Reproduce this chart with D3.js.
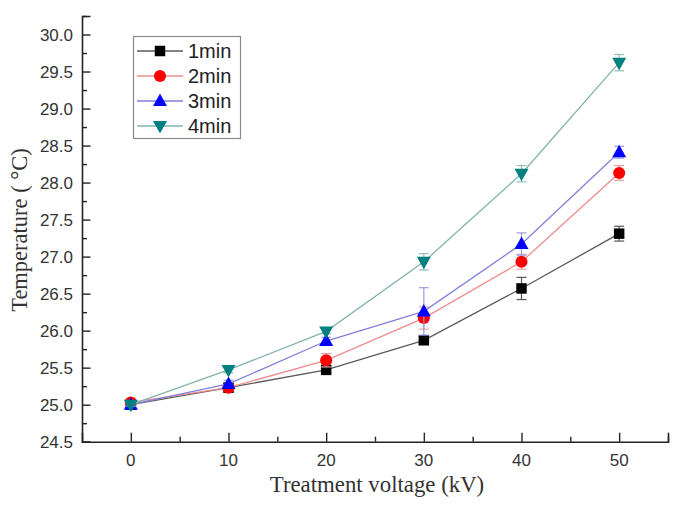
<!DOCTYPE html>
<html>
<head>
<meta charset="utf-8">
<script src="https://cdn.jsdelivr.net/npm/d3@7/dist/d3.min.js"></script>
<style>
  html, body { margin: 0; padding: 0; background: #fff; }
  svg { display: block; }
</style>
</head>
<body>
<svg id="chart" width="680" height="509"></svg>
<script>
// ---- Data ----
const voltages = [0, 10, 20, 30, 40, 50];
const seriesNames = ["1min", "2min", "3min", "4min"];
const temp1 = [25.00, 25.23, 25.47, 25.87, 26.57, 27.31];
const temp2 = [25.03, 25.23, 25.60, 26.17, 26.93, 28.13];
const temp3 = [25.00, 25.28, 25.86, 26.26, 27.17, 28.41];
const temp4 = [25.00, 25.47, 25.99, 26.93, 28.12, 29.62];
const err1 = [0.02, 0.03, 0.04, 0.05, 0.15, 0.10];
const err2 = [0.03, 0.03, 0.09, 0.15, 0.10, 0.10];
const err3 = [0.02, 0.05, 0.05, 0.32, 0.15, 0.08];
const err4 = [0.02, 0.04, 0.03, 0.11, 0.11, 0.11];
const yTickLabels = ["24.5","25.0","25.5","26.0","26.5","27.0","27.5","28.0","28.5","29.0","29.5","30.0"];
const xTickLabels = ["0","10","20","30","40","50"];

const styles = [
  {marker: "square",   fill: "#000000", line: "#5a5a5a", err: "#555555"},
  {marker: "circle",   fill: "#ff0000", line: "#ee8c8c", err: "#f0a0a0"},
  {marker: "triangle", fill: "#0000ff", line: "#8080dd", err: "#9a9ae6"},
  {marker: "tridown",  fill: "#008080", line: "#80b4ac", err: "#90c0b8"}
];
const series = [temp1, temp2, temp3, temp4].map((vals, i) => ({
  name: seriesNames[i],
  values: vals.map((v, j) => ({x: voltages[j], y: v, e: [err1, err2, err3, err4][i][j]})),
  style: styles[i]
}));

// ---- Layout ----
const svg = d3.select("#chart");
const mLeft = 82, mRight = 668, mTop = 16, mBottom = 441.7;
const x = d3.scaleLinear().domain([-5, 55]).range([mLeft, mRight]);
const y = d3.scaleLinear().domain([24.5, 30.25]).range([mBottom, mTop]);

const axisColor = "#222";

// ---- Axes ----
const yMajor = yTickLabels.map(Number);
const yMinor = d3.range(24.75, 30.26, 0.5);
const xMajor = xTickLabels.map(Number);
const xMinor = [5, 15, 25, 35, 45, 55];

const yAxisG = svg.append("g").attr("transform", `translate(${mLeft},0)`)
  .call(d3.axisRight(y).tickValues(yMajor).tickSize(8.5).tickFormat(""));
const yMinorG = svg.append("g").attr("transform", `translate(${mLeft},0)`)
  .call(d3.axisRight(y).tickValues(yMinor).tickSize(5).tickFormat(""));
const xAxisG = svg.append("g").attr("transform", `translate(0,${mBottom})`)
  .call(d3.axisTop(x).tickValues(xMajor).tickSize(9).tickFormat(""));
const xMinorG = svg.append("g").attr("transform", `translate(0,${mBottom})`)
  .call(d3.axisTop(x).tickValues(xMinor).tickSize(5).tickFormat(""));

[yAxisG, yMinorG, xAxisG, xMinorG].forEach(g => {
  g.selectAll("path.domain").attr("stroke", axisColor).attr("stroke-width", 1.6);
  g.selectAll(".tick line").attr("stroke", axisColor).attr("stroke-width", 1.4);
});
yMinorG.select("path.domain").remove();
xMinorG.select("path.domain").remove();

// tick labels
svg.append("g").selectAll("text").data(yTickLabels).join("text")
  .attr("x", mLeft - 9).attr("y", d => y(+d) + 6)
  .attr("text-anchor", "end")
  .attr("font-family", "Liberation Sans, Arial, sans-serif")
  .attr("font-size", 17).attr("fill", "#333")
  .text(d => d);
svg.append("g").selectAll("text").data(xTickLabels).join("text")
  .attr("x", d => x(+d)).attr("y", mBottom + 24)
  .attr("text-anchor", "middle")
  .attr("font-family", "Liberation Sans, Arial, sans-serif")
  .attr("font-size", 17).attr("fill", "#333")
  .text(d => d);

// axis titles
svg.append("text")
  .attr("x", 377).attr("y", 492)
  .attr("text-anchor", "middle")
  .attr("font-family", "Liberation Serif, Times New Roman, serif")
  .attr("font-size", 22.8).attr("fill", "#333")
  .text("Treatment voltage (kV)");
svg.append("text")
  .attr("transform", "translate(27,230) rotate(-90)")
  .attr("text-anchor", "middle")
  .attr("font-family", "Liberation Serif, Times New Roman, serif")
  .attr("font-size", 22.5).attr("fill", "#333")
  .text("Temperature ( °C)");

// ---- Markers ----
function markerPath(type) {
  if (type === "square") return d3.symbol(d3.symbolSquare, 110)();
  if (type === "circle") return d3.symbol(d3.symbolCircle, 115)();
  if (type === "triangle") return "M0,-7.5L7,5L-7,5Z";
  return "M0,7.5L7,-5L-7,-5Z";
}

const line = d3.line().x(d => x(d.x)).y(d => y(d.y));
const capW = 5;

series.forEach(s => {
  const g = svg.append("g");
  // error bars
  const eb = g.append("g").selectAll("g").data(s.values).join("g")
    .attr("stroke", s.style.err).attr("stroke-width", 1.2);
  eb.append("line")
    .attr("x1", d => x(d.x)).attr("x2", d => x(d.x))
    .attr("y1", d => y(d.y - d.e)).attr("y2", d => y(d.y + d.e));
  eb.append("line")
    .attr("x1", d => x(d.x) - capW).attr("x2", d => x(d.x) + capW)
    .attr("y1", d => y(d.y + d.e)).attr("y2", d => y(d.y + d.e));
  eb.append("line")
    .attr("x1", d => x(d.x) - capW).attr("x2", d => x(d.x) + capW)
    .attr("y1", d => y(d.y - d.e)).attr("y2", d => y(d.y - d.e));
  // line
  g.append("path").datum(s.values)
    .attr("d", line).attr("fill", "none")
    .attr("stroke", s.style.line).attr("stroke-width", 1.3);
  // markers
  g.append("g").selectAll("path").data(s.values).join("path")
    .attr("transform", d => `translate(${x(d.x)},${y(d.y)})`)
    .attr("d", markerPath(s.style.marker))
    .attr("fill", s.style.fill);
});

// ---- Legend ----
const lg = svg.append("g");
lg.append("rect")
  .attr("x", 133.5).attr("y", 36.5).attr("width", 107).attr("height", 102)
  .attr("fill", "#fff").attr("stroke", "#8a8a8a").attr("stroke-width", 1.2);
series.forEach((s, i) => {
  const yy = 51 + i * 25;
  lg.append("line").attr("x1", 137).attr("x2", 183).attr("y1", yy).attr("y2", yy)
    .attr("stroke", s.style.line).attr("stroke-width", 1.3);
  lg.append("path").attr("transform", `translate(160,${yy})`)
    .attr("d", markerPath(s.style.marker)).attr("fill", s.style.fill);
  lg.append("text").attr("x", 188).attr("y", yy + 7)
    .attr("font-family", "Liberation Sans, Arial, sans-serif")
    .attr("font-size", 20).attr("fill", "#222")
    .text(s.name);
});
</script>
</body>
</html>
